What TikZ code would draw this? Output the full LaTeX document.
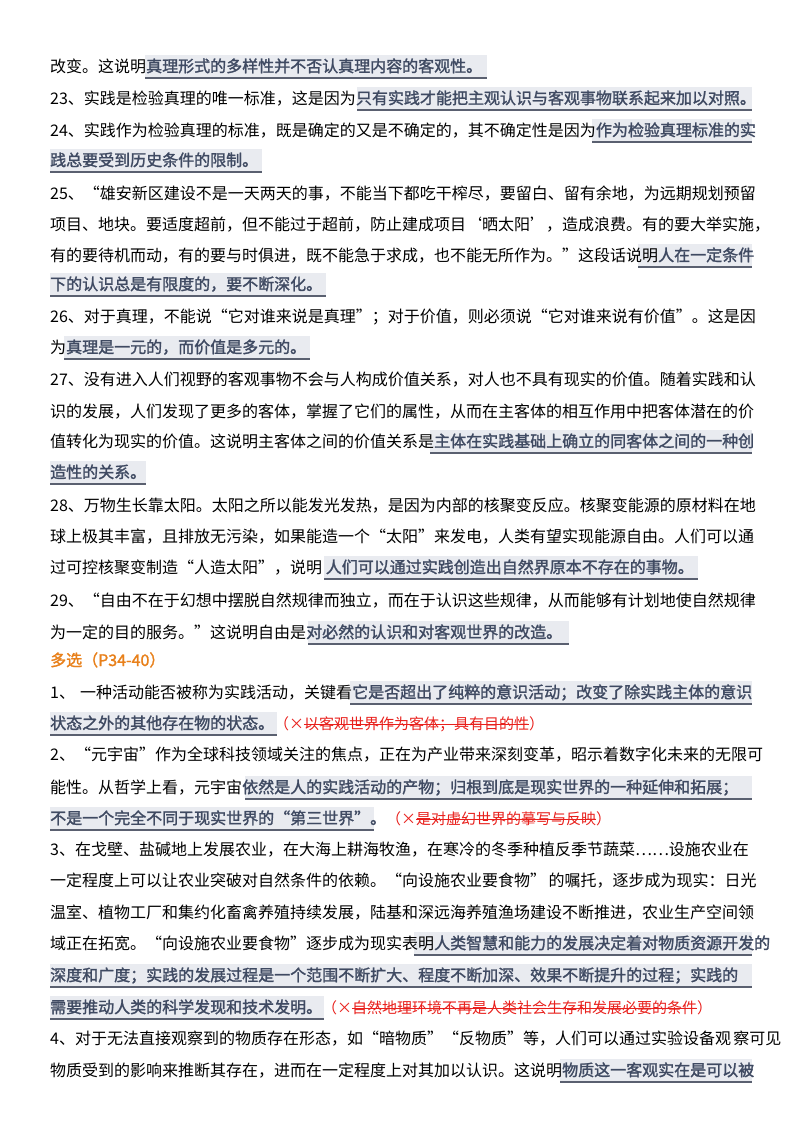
\documentclass[tikz,border=0pt]{standalone}
\usepackage{fontspec}
\setmainfont{Noto Sans CJK SC}
\newfontfamily\hlfont{Noto Sans CJK SC}[FakeBold=1.6]
\definecolor{hlc}{HTML}{3F4A62}
\definecolor{hlbg}{HTML}{E9EBF0}
\definecolor{hlul}{HTML}{5A6070}
\definecolor{redc}{HTML}{E8201C}
\definecolor{orc}{HTML}{E8801A}
\newcommand{\fs}{\fontsize{16}{16}\selectfont\XeTeXlinebreaklocale "zh"\XeTeXlinebreakskip=0pt plus 6pt\relax}
\newcommand{\Hl}[1]{{\hlfont\color{hlc}#1}}
\newsavebox{\strkbox}
\newcommand{\Sk}[1]{\sbox\strkbox{#1}\usebox\strkbox\llap{\rule[0.3em]{\wd\strkbox}{0.9pt}}}
\newcommand{\Rd}[1]{{\fontsize{15}{15}\selectfont\color{redc}#1}}
\newcommand{\J}[1]{\hbox to 702pt{#1}}
\tikzset{txt/.style={anchor=base west,inner sep=0pt,font=\fs},
hlr/.style={fill=hlbg,draw=none},
hlu/.style={draw=hlul,line width=1.6pt}}
\newcommand{\HB}[3]{\fill[hlr] (#1,#3-11) rectangle (#2,#3+12); \draw[hlu] (#1,#3+12) -- (#2,#3+12);}
\begin{document}
\begin{tikzpicture}[x=1pt,y=-1pt]
\useasboundingbox (0,0) rectangle (800,1132);
% highlight backgrounds
\HB{145}{487}{66}
\HB{357}{752}{98}
\HB{592}{752}{130}
\HB{50}{262}{160}
\HB{638}{752}{255}
\HB{50}{326}{284}
\HB{64}{310}{347}
\HB{430}{752}{441}
\HB{50}{146}{472}
\HB{324}{698}{567}
\HB{308}{569}{632}
\HB{350}{752}{692}
\HB{50}{277}{723}
\HB{245}{752}{787}
\HB{50}{374}{818}
\HB{414}{752}{943}
\HB{50}{752}{975}
\HB{50}{324}{1007}
\HB{560}{752}{1070}
% text lines
\node[txt] (l1) at (50,72) {改变。这说明\Hl{真理形式的多样性并不否认真理内容的客观性。}};
\node[txt] (l2) at (50,104) {\J{23、实践是检验真理的唯一标准，这是因为\Hl{只有实践才能把主观认识与客观事物联系起来加以对照。}}};
\node[txt] (l3) at (50,136) {\J{24、实践作为检验真理的标准，既是确定的又是不确定的，其不确定性是因为\Hl{作为检验真理标准的实}}};
\node[txt] (l4) at (50,166) {\Hl{践总要受到历史条件的限制。}};
\node[txt] (l5) at (50,199) {\J{25、“雄安新区建设不是一天两天的事，不能当下都吃干榨尽，要留白、留有余地，为远期规划预留}};
\node[txt] (l6) at (50,230) {\J{项目、地块。要适度超前，但不能过于超前，防止建成项目‘晒太阳’，造成浪费。有的要大举实施，}};
\node[txt] (l7) at (50,261) {\J{有的要待机而动，有的要与时俱进，既不能急于求成，也不能无所作为。”这段话说明\Hl{人在一定条件}}};
\node[txt] (l8) at (50,290) {\Hl{下的认识总是有限度的，要不断深化。}};
\node[txt] (l9) at (50,322) {\J{26、对于真理，不能说“它对谁来说是真理”；对于价值，则必须说“它对谁来说有价值”。这是因}};
\node[txt] (l10) at (50,353) {为\Hl{真理是一元的，而价值是多元的。}};
\node[txt] (l11) at (50,385) {\J{27、没有进入人们视野的客观事物不会与人构成价值关系，对人也不具有现实的价值。随着实践和认}};
\node[txt] (l12) at (50,417) {\J{识的发展，人们发现了更多的客体，掌握了它们的属性，从而在主客体的相互作用中把客体潜在的价}};
\node[txt] (l13) at (50,447) {\J{值转化为现实的价值。这说明主客体之间的价值关系是\Hl{主体在实践基础上确立的同客体之间的一种创}}};
\node[txt] (l14) at (50,478) {\Hl{造性的关系。}};
\node[txt] (l15) at (50,511) {\J{28、万物生长靠太阳。太阳之所以能发光发热，是因为内部的核聚变反应。核聚变能源的原材料在地}};
\node[txt] (l16) at (50,542) {\J{球上极其丰富，且排放无污染，如果能造一个“太阳”来发电，人类有望实现能源自由。人们可以通}};
\node[txt] (l17) at (50,573) {过可控核聚变制造“人造太阳”，说明 \Hl{人们可以通过实践创造出自然界原本不存在的事物。}};
\node[txt] (l18) at (50,606) {\J{29、“自由不在于幻想中摆脱自然规律而独立，而在于认识这些规律，从而能够有计划地使自然规律}};
\node[txt] (l19) at (50,638) {为一定的目的服务。”这说明自由是\Hl{对必然的认识和对客观世界的改造。}};
\node[txt] (l20) at (50,666) {{\hlfont\color{orc}多选（P34-40）}};
\node[txt] (l21) at (50,698) {\J{1、\ 一种活动能否被称为实践活动，关键看\Hl{它是否超出了纯粹的意识活动；改变了除实践主体的意识}}};
\node[txt] (l22) at (50,729) {\Hl{状态之外的其他存在物的状态。}\Rd{（×\Sk{以客观世界作为客体；具有目的性}）}};
\node[txt] (l23) at (50,760) {\J{2、“元宇宙”作为全球科技领域关注的焦点，正在为产业带来深刻变革，昭示着数字化未来的无限可}};
\node[txt] (l24) at (50,793) {\J{能性。从哲学上看，元宇宙\Hl{依然是人的实践活动的产物；归根到底是现实世界的一种延伸和拓展；}}};
\node[txt] (l25) at (50,824) {\Hl{不是一个完全不同于现实世界的“第三世界”。}\Rd{（×\Sk{是对虚幻世界的摹写与反映}）}};
\node[txt] (l26) at (50,855) {\J{3、在戈壁、盐碱地上发展农业，在大海上耕海牧渔，在寒冷的冬季种植反季节蔬菜……设施农业在}};
\node[txt] (l27) at (50,886) {\J{一定程度上可以让农业突破对自然条件的依赖。“向设施农业要食物” 的嘱托，逐步成为现实：日光}};
\node[txt] (l28) at (50,918) {\J{温室、植物工厂和集约化畜禽养殖持续发展，陆基和深远海养殖渔场建设不断推进，农业生产空间领}};
\node[txt] (l29) at (50,949) {\J{域正在拓宽。“向设施农业要食物”逐步成为现实表明\Hl{人类智慧和能力的发展决定着对物质资源开发的}}};
\node[txt] (l30) at (50,981) {\J{\Hl{深度和广度；实践的发展过程是一个范围不断扩大、程度不断加深、效果不断提升的过程；实践的}}};
\node[txt] (l31) at (50,1013) {\Hl{需要推动人类的科学发现和技术发明。}\Rd{（×\Sk{自然地理环境不再是人类社会生存和发展必要的条件}）}};
\node[txt] (l32) at (50,1044) {\J{4、对于无法直接观察到的物质存在形态，如“暗物质”“反物质”等，人们可以通过实验设备观 察可见}};
\node[txt] (l33) at (50,1076) {\J{物质受到的影响来推断其存在，进而在一定程度上对其加以认识。这说明\Hl{物质这一客观实在是可以被}}};
\end{tikzpicture}
\end{document}
